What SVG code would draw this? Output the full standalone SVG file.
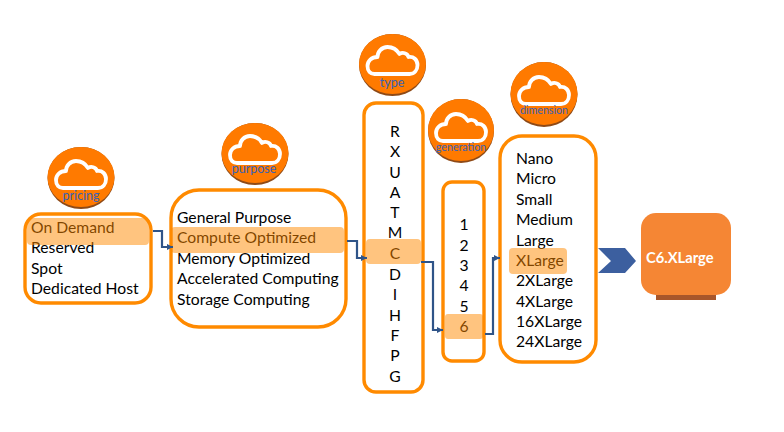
<svg xmlns="http://www.w3.org/2000/svg" width="784" height="432" viewBox="0 0 784 432">
<style>
text{font-family:"Lato","Open Sans","Liberation Sans",sans-serif}
.t{font-size:15.7px;fill:#000}
.m{text-anchor:middle}
.b{fill:#fff;stroke:#FF8A00;stroke-width:3.4}
.h{fill:#FF8A00;fill-opacity:.5}
.c{fill:none;stroke:#2F5488;stroke-width:2.2}
.l{font-size:12.5px;fill:#3A62B5;text-anchor:middle}
.d{fill:#8E4A17}
.o{fill:#FF7A00}
.k{fill:none;stroke:#fff;stroke-width:3.8;stroke-linejoin:round}
</style>
<defs>
<marker id="a" markerWidth="7" markerHeight="7" refX="6" refY="3.500" orient="auto" markerUnits="userSpaceOnUse"><path d="M0,0.500L6,3.500L0,6.500z" fill="#2F5488"/></marker>
<path id="cl" d="M-18,10H17C22,10 25,6 25,1C25,-4 21,-8 16,-7C15,-11 10,-12 7,-10C4,-15 0,-17 -5,-17C-11,-17 -15,-12 -15,-7C-21,-7 -25,-3 -25,2C-25,7 -22,10 -18,10Z"/>
</defs>
<g id="pricing-badge"><ellipse class="d" cx="81" cy="178" rx="33.500" ry="31"/><ellipse class="o" cx="81" cy="177" rx="33.500" ry="30"/><use href="#cl" class="k" x="81" y="178"/><text class="l" x="81" y="200">pricing</text></g>
<g id="purpose-badge"><ellipse class="d" cx="255" cy="154" rx="33.500" ry="31"/><ellipse class="o" cx="255" cy="153" rx="33.500" ry="30"/><use href="#cl" class="k" x="255" y="153"/><text class="l" x="254" y="173">purpose</text></g>
<g id="type-badge"><ellipse class="d" cx="392.500" cy="65" rx="33.500" ry="31"/><ellipse class="o" cx="392.500" cy="64" rx="33.500" ry="30"/><use href="#cl" class="k" x="392.500" y="64"/><text class="l" x="392" y="87">type</text></g>
<g id="generation-badge"><ellipse class="d" cx="461" cy="131" rx="33" ry="32"/><ellipse class="o" cx="461" cy="130" rx="33" ry="31"/><use href="#cl" class="k" x="461" y="131"/><text class="l" x="461" y="151" style="font-size:10.700px">generation</text></g>
<g id="dimension-badge"><ellipse class="d" cx="544" cy="94.500" rx="33.500" ry="32.500"/><ellipse class="o" cx="544" cy="93.500" rx="33.500" ry="31.500"/><use href="#cl" class="k" x="544" y="94"/><text class="l" x="544" y="114" style="font-size:10.700px">dimension</text></g>
<g id="pricing">
<rect class="b" x="25" y="214" width="126" height="89" rx="16"/>
<text class="t" x="31" y="233">On Demand</text><text class="t" x="31" y="253">Reserved</text><text class="t" x="31" y="274">Spot</text><text class="t" x="31" y="294">Dedicated Host</text>
<rect class="h" x="27" y="218" width="122" height="27" rx="4"/>
</g>
<g id="purpose">
<rect class="b" x="171" y="190" width="175" height="137" rx="28"/>
<text class="t" x="177" y="223">General Purpose</text><text class="t" x="177" y="243">Compute Optimized</text><text class="t" x="177" y="264">Memory Optimized</text><text class="t" x="177" y="284">Accelerated Computing</text><text class="t" x="177" y="305">Storage Computing</text>
<rect class="h" x="171" y="227" width="173" height="26" rx="4"/>
</g>
<g id="type">
<rect class="b" x="364" y="103" width="59" height="289" rx="12"/>
<text class="t m" x="395" y="137">R</text><text class="t m" x="395" y="157">X</text><text class="t m" x="395" y="178">U</text><text class="t m" x="395" y="198">A</text><text class="t m" x="395" y="218">T</text><text class="t m" x="395" y="238">M</text><text class="t m" x="395" y="259">C</text><text class="t m" x="395" y="280">D</text><text class="t m" x="395" y="300">I</text><text class="t m" x="395" y="321">H</text><text class="t m" x="395" y="341">F</text><text class="t m" x="395" y="361">P</text><text class="t m" x="395" y="382">G</text>
<rect class="h" x="366" y="239" width="55" height="25" rx="4"/>
</g>
<g id="generation">
<rect class="b" x="443" y="182" width="41" height="179" rx="9"/>
<text class="t m" x="464" y="230">1</text><text class="t m" x="464" y="251">2</text><text class="t m" x="464" y="271">3</text><text class="t m" x="464" y="291">4</text><text class="t m" x="464" y="312">5</text><text class="t m" x="464" y="332">6</text>
<rect class="h" x="445" y="314" width="38" height="25" rx="3"/>
</g>
<g id="dimension">
<rect class="b" x="500" y="136" width="96" height="226" rx="22"/>
<text class="t" x="516" y="164">Nano</text><text class="t" x="516" y="184">Micro</text><text class="t" x="516" y="205">Small</text><text class="t" x="516" y="225">Medium</text><text class="t" x="516" y="246">Large</text><text class="t" x="516" y="266">XLarge</text><text class="t" x="516" y="286">2XLarge</text><text class="t" x="516" y="307">4XLarge</text><text class="t" x="516" y="327">16XLarge</text><text class="t" x="516" y="347">24XLarge</text>
<rect class="h" x="509" y="248" width="58" height="26" rx="4"/>
</g>
<g id="connectors">
<path class="c" marker-end="url(#a)" d="M153,231H162V247H173"/>
<path class="c" marker-end="url(#a)" d="M347,241H357V258H367"/>
<path class="c" marker-end="url(#a)" d="M421,262H433V330H443"/>
<path class="c" marker-end="url(#a)" d="M485,334H493V258H500"/>
</g>
<g id="arrow"><path d="M598,248H625L636,261L625,273H598L611,261Z" fill="#3C5F9F"/></g>
<g id="result">
<rect x="656" y="290" width="60" height="10" fill="#A8562A"/>
<rect x="641" y="213" width="90" height="82" rx="15" fill="#F58634"/>
<text x="646" y="263" font-size="14.700" font-weight="700" fill="#fff">C6.XLarge</text>
</g>
</svg>
